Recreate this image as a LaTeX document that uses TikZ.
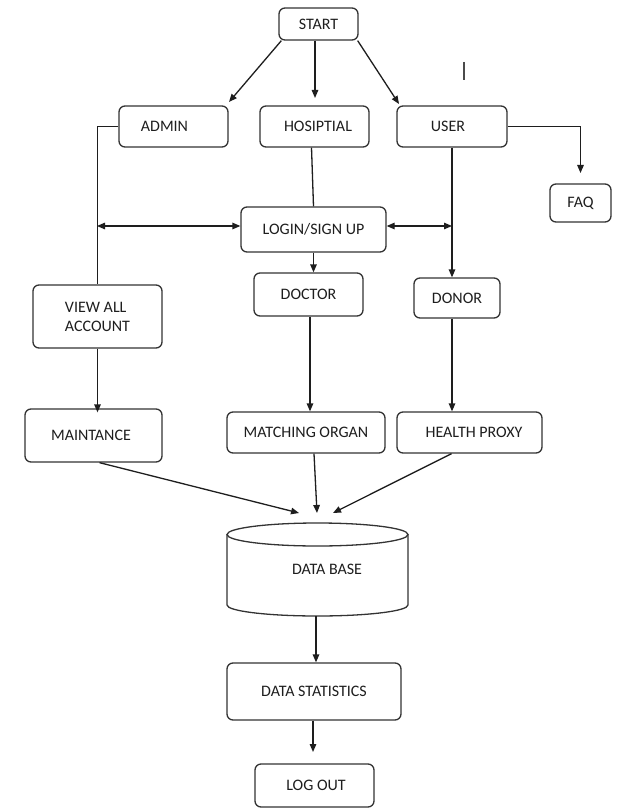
\documentclass[tikz,border=0pt]{standalone}
\usepackage{fontspec}
\setmainfont{Carlito}
\usetikzlibrary{arrows.meta,calc}
\definecolor{ln}{HTML}{1E1E1E}
\definecolor{bx}{HTML}{333333}
\newcommand{\tsh}[1]{\hspace*{#1}}
\begin{document}
\begin{tikzpicture}[x=1pt,y=-1pt,
  box/.style={draw=bx,line width=1.3pt,rounded corners=6pt,inner sep=0pt,
    text=ln,font=\fontsize{16}{19}\selectfont},
  arr/.style={draw=ln,line width=1.3pt,-{Triangle[length=8pt,width=6.5pt]}},
  darr/.style={draw=ln,line width=1.3pt,{Triangle[length=8pt,width=6.5pt]}-{Triangle[length=8pt,width=6.5pt]}},
  ln/.style={draw=ln,line width=1.3pt}]
\useasboundingbox (0,0) rectangle (619,810);
\fill[white] (0,0) rectangle (619,810);
% nodes
\node[box,minimum width=79pt,minimum height=32pt] (start) at (318.5,24) {START};
\node[box,minimum width=109pt,minimum height=41pt] (admin) at (173.5,126.5) {\tsh{-18pt}ADMIN};
\node[box,minimum width=109pt,minimum height=41pt] (hosp) at (314.5,126.5) {\tsh{7pt}HOSIPTIAL};
\node[box,minimum width=110pt,minimum height=41pt] (user) at (452,126.5) {\tsh{-8pt}USER};
\node[box,minimum width=61pt,minimum height=38pt] (faq) at (580.5,203) {FAQ};
\node[box,minimum width=145pt,minimum height=45pt] (login) at (313.5,229.5) {LOGIN/SIGN UP};
\node[box,minimum width=109pt,minimum height=43pt] (doctor) at (308.5,294.5) {DOCTOR};
\node[box,minimum width=86pt,minimum height=40pt] (donor) at (457,298) {DONOR};
\node[box,minimum width=129pt,minimum height=63pt,align=left] (view) at (97.5,316.5) {VIEW ALL\\[0pt]ACCOUNT};
\node[box,minimum width=137pt,minimum height=53pt] (maint) at (93.5,435.5) {\tsh{-5pt}MAINTANCE};
\node[box,minimum width=158pt,minimum height=41pt] (match) at (306,432.5) {MATCHING ORGAN};
\node[box,minimum width=145pt,minimum height=41pt] (health) at (469.5,432.5) {\tsh{9pt}HEALTH PROXY};
\node[minimum width=181pt,minimum height=93pt,inner sep=0pt,text=ln,font=\fontsize{16}{19}\selectfont] (db) at (317.5,569.5) {\tsh{19pt}DATA BASE};
\node[box,minimum width=174pt,minimum height=57pt] (stats) at (314,691.5) {DATA STATISTICS};
\node[box,minimum width=119pt,minimum height=43pt] (logout) at (314.5,785.5) {\tsh{3pt}LOG OUT};
% database cylinder outline
\draw[draw=bx,line width=1.3pt] (317.5,534.5) ellipse[x radius=90.5,y radius=11.5];
\draw[draw=bx,line width=1.3pt] (227,534.5) -- (227,605) arc[start angle=180,end angle=0,x radius=90.5,y radius=11] -- (408,534.5);
% coordinates
\coordinate (aA) at (229,102);
\coordinate (aH) at (315,98);
\coordinate (aU) at (399,104);
\coordinate (lL) at (97,226);
\coordinate (rR) at (452,226);
\coordinate (faqT) at (580.5,173);
\coordinate (dbL) at (299,513);
\coordinate (dbM) at (317,513);
\coordinate (dbR) at (333,513);
\coordinate (loT) at (313,752);
% connectors
\draw[arr] ([xshift=3pt]start.south west) -- (aA);
\draw[arr] (start.south -| aH) -- (aH);
\draw[arr] ([xshift=-1pt]start.south east) -- (aU);
\draw[ln] (admin.west) -| (view.north);
\draw[darr] (lL) -- (lL -| login.west);
\draw[darr] (login.east |- rR) -- (rR);
\draw[ln] ([xshift=-3pt]hosp.south) -- (login.north);
\draw[arr] (user.south) -- (user.south |- donor.north);
\draw[arr] (user.east) -| (faqT);
\draw[arr] (login.south) -- (login.south |- doctor.north);
\draw[arr] (view.south) -- ([yshift=-4pt]view.south |- maint.north);
\draw[arr] ([xshift=1.5pt]doctor.south) -- ([xshift=1.5pt]doctor.south |- match.north);
\draw[arr] (user.south |- donor.south) -- (user.south |- health.north);
\draw[arr] ([xshift=6pt]maint.south) -- (dbL);
\draw[arr] ([xshift=8pt]match.south) -- (dbM);
\draw[arr] ([xshift=-18pt]health.south) -- (dbR);
\draw[arr] ([xshift=-1.5pt]db.south) -- ([xshift=-1.5pt]db.south |- stats.north);
\draw[arr] ([xshift=-1pt]stats.south) -- (loT);
% stray cursor mark
\draw[draw=ln!80,line width=1.2pt] (464,62) -- (464,80);
\end{tikzpicture}
\end{document}
